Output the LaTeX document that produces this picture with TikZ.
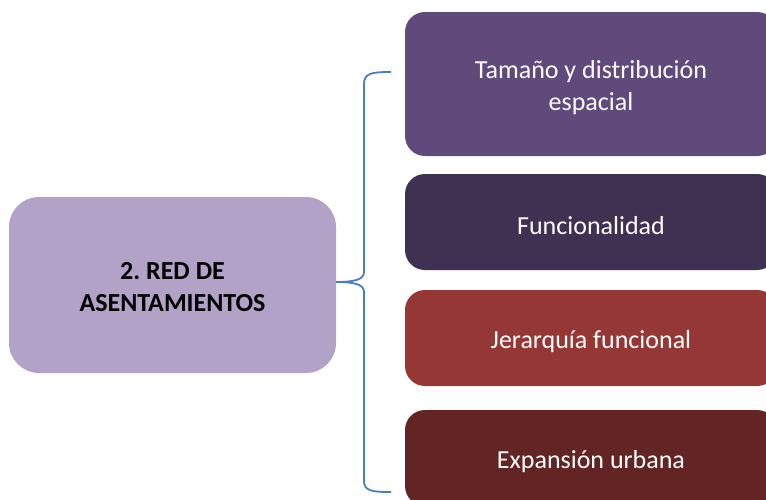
\documentclass[tikz,border=0pt]{standalone}
\usepackage{fontspec}
\setmainfont{Carlito}
\usepackage{tikz}
\frenchspacing

\definecolor{lila}{HTML}{B3A2C7}
\definecolor{morado}{HTML}{604A7B}
\definecolor{moradoosc}{HTML}{3F3151}
\definecolor{rojo}{HTML}{953735}
\definecolor{rojoosc}{HTML}{632523}
\definecolor{azul}{HTML}{4A7EBB}

\begin{document}
\begin{tikzpicture}[x=1pt,y=-1pt,
  caja/.style={rounded corners=20pt, minimum width=372pt, inner sep=0pt},
  texto/.style={text=white, align=center, inner sep=0pt, yshift=-4pt,
    font=\fontsize{26}{32}\selectfont},
  llave/.style={draw=azul, line width=1.8pt}]

\clip (0,0) rectangle (766,499);

\node[caja, fill=lila, rounded corners=30pt, minimum width=327pt, minimum height=176pt,
  label={[texto, text=black, yshift=2pt, font=\bfseries\fontsize{26}{32}\selectfont]center:2. RED DE\\ASENTAMIENTOS}]
  (red) at (172.5,285) {};

\foreach \nombre/\y/\h/\col/\txt in {
  tam/84/144/morado/{Tamaño y distribución\\espacial},
  fun/222/96/moradoosc/{Funcionalidad},
  jer/338/96/rojo/{Jerarquía funcional},
  exp/458/96/rojoosc/{Expansión urbana}} {
  \node[caja, fill=\col, minimum height=\h pt, label={[texto]center:\txt}] (\nombre) at (591,\y) {};
}

\coordinate (punta) at ([yshift=3pt]red.east);
\draw[llave] (391,72) .. controls (372,72) and (364,73) .. (364,84) -- (364,272)
  .. controls (364,279) and (356,282) .. (punta)
  .. controls (356,282) and (364,285) .. (364,292) -- (364,481)
  .. controls (364,491) and (372,492) .. (391,492);

\end{tikzpicture}
\end{document}
